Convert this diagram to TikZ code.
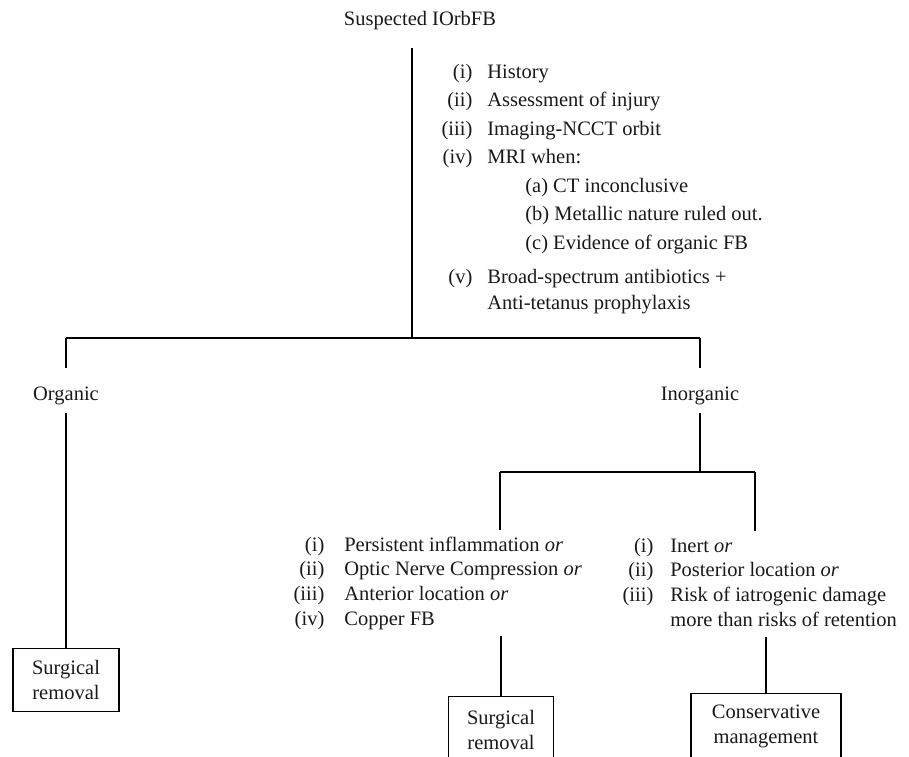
\documentclass[tikz,border=0pt]{standalone}
\usepackage{fontspec}
\setmainfont{Liberation Serif}
\usepackage{tikz}

\begin{document}
\begin{tikzpicture}
  [x=1pt,y=-1pt,line width=1.2pt,
   every node/.style={inner sep=0pt,text=black!90,font=\fontsize{20.5}{28.5}\selectfont},
   lbl/.style={anchor=base,text height=23pt,text depth=4pt,inner ysep=8pt},
   lst/.style={anchor=base west,inner ysep=3pt,font=\fontsize{20.5}{24.7}\selectfont},
   box/.style={draw,anchor=north,align=center,minimum height=63pt,font=\fontsize{20.5}{25}\selectfont}]
  \useasboundingbox (0,0) rectangle (909,756);

  \node [anchor=base] (n1) at (420,25) {Suspected IOrbFB};
  \node [anchor=base west] (n2) at (441,78) {\begin{tabular}[t]{@{}r@{\hspace{15pt}}l@{}}
    (i) & History\\
    (ii) & Assessment of injury\\
    (iii) & Imaging-NCCT orbit\\
    (iv) & MRI when:\\
    & \hspace{38pt}(a) CT inconclusive\\
    & \hspace{38pt}(b) Metallic nature ruled out.\\
    & \hspace{38pt}(c) Evidence of organic FB\\[6pt]
    (v) & Broad-spectrum antibiotics +\\[-2.5pt]
    & Anti-tetanus prophylaxis
  \end{tabular}};
  \node [lbl] (n3) at (66,400) {Organic};
  \node [lbl] (n4) at (700,400) {Inorganic};
  \node [lst] (n5) at (293,551) {\begin{tabular}[t]{@{}r@{\hspace{20pt}}l@{}}
    (i) & Persistent inflammation \textit{or}\\
    (ii) & Optic Nerve Compression \textit{or}\\
    (iii) & Anterior location \textit{or}\\
    (iv) & Copper FB
  \end{tabular}};
  \node [lst] (n6) at (622,552) {\begin{tabular}[t]{@{}r@{\hspace{17pt}}l@{}}
    (i) & Inert \textit{or}\\
    (ii) & Posterior location \textit{or}\\
    (iii) & Risk of iatrogenic damage\\
    & more than risks of retention
  \end{tabular}};
  \node [box,minimum width=106pt] (n7) at (66,648) {Surgical\\removal};
  \node [box,minimum width=105pt,minimum height=66pt] (n8) at (501,696) {Surgical\\removal};
  \node [box,minimum width=150pt,minimum height=66pt] (n9) at (766,693) {Conservative\\management};

  \coordinate (c1) at (412,48);
  \coordinate (c2) at (412,338);
  \coordinate (c3) at (66,338);
  \coordinate (c4) at (700,338);
  \coordinate (c5) at (500,472);
  \coordinate (c6) at (700,472);
  \coordinate (c7) at (755,472);

  \draw [line width=2pt] (c1) -- (c2);
  \foreach \from/\to in {c3/c4,c3/n3,c4/n4,n4/c6,c5/c7,c5/c5 |- n5.north,c7/c7 |- n6.north,
      n3/n7,n8 |- n5.south/n8,n9 |- n6.south/n9}
    \draw (\from) -- (\to);

\end{tikzpicture}
\end{document}
